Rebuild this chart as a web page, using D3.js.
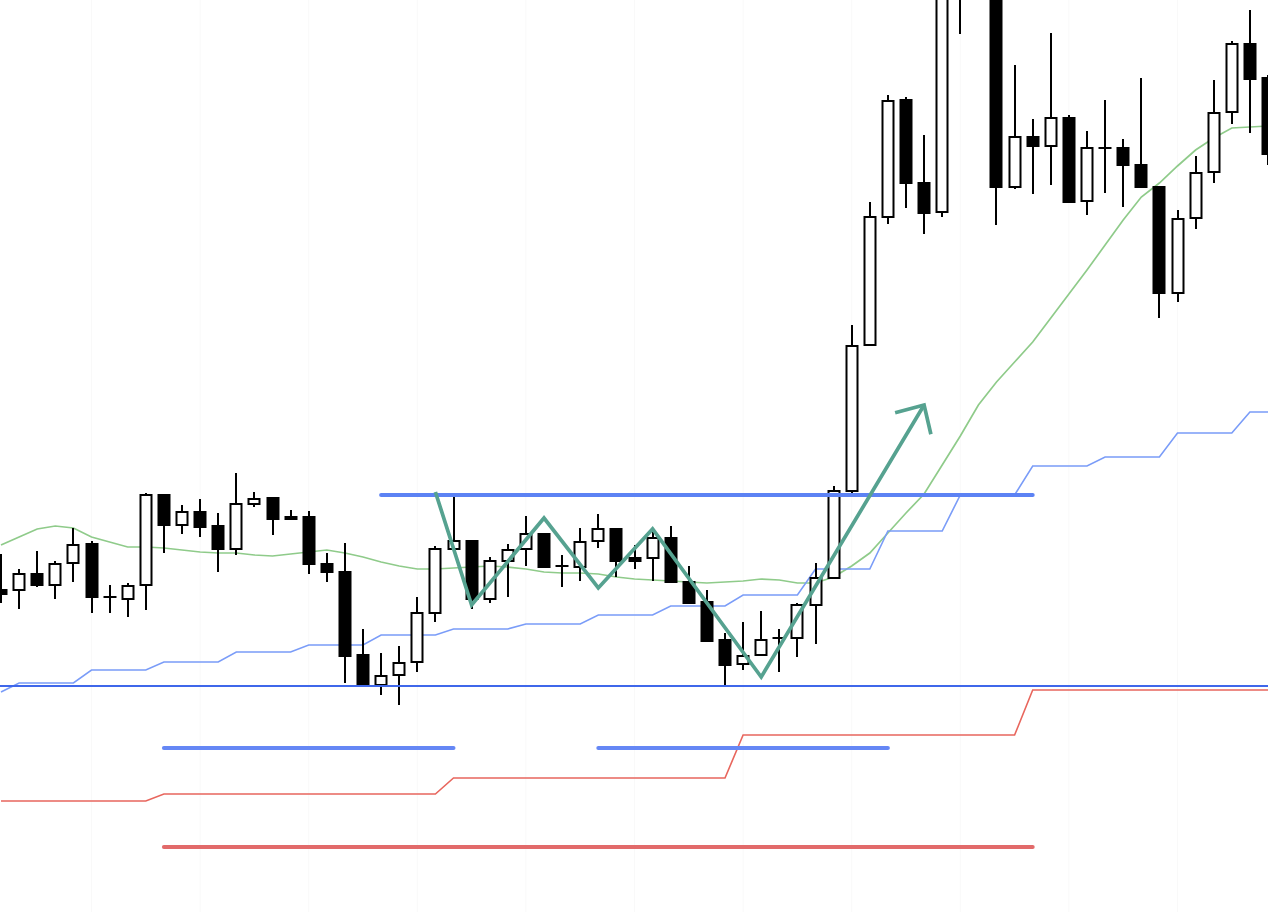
<!DOCTYPE html>
<html><head><meta charset="utf-8">
<script src="https://cdn.jsdelivr.net/npm/d3@7"></script>
<style>html,body{margin:0;padding:0;background:#fff;overflow:hidden}</style>
</head><body><svg id="chart" width="1268" height="912"></svg>
<script>
// ---- data (price units) ----
const bars = d3.range(1, 72);
const open  = [410,410,426,415,437,456,403,401,415,505, 475,488,474,451,496,502,483,483,436,428, 345,315,325,338,387,451,459,401,439,451, 466,434,433,459,471,442,442,462,418,398, 360,336,345,362,362,395,422,509,655,783, 900,817,788,1020,1130,1080,813,863,854,882, 799,852,852,835,813,707,782,828,888,956, 922];
const high  = [446,431,449,439,472,459,415,417,507,505, 495,501,487,527,508,502,490,489,447,457, 371,347,354,403,454,505,459,443,456,484, 466,445,472,486,472,455,472,474,434,410, 367,378,389,371,397,437,514,675,798,905, 903,865,1040,1100,1150,1090,935,881,967,885, 869,900,861,922,813,790,844,920,959,990, 925];
const low   = [397,391,413,401,418,387,387,383,390,447, 466,463,428,445,493,465,481,426,418,317, 314,305,295,328,378,451,391,397,403,434, 433,413,419,452,423,431,419,417,396,359, 314,330,345,328,343,356,422,507,655,776, 792,766,783,966,1020,775,811,806,815,797, 785,807,793,813,682,698,771,817,876,867, 835];
const close = [406,426,415,436,455,403,403,414,505,475, 488,473,451,496,501,481,481,436,428,344, 314,324,337,387,451,459,401,439,450,466, 433,434,458,471,439,439,462,418,397,359, 335,344,360,362,395,422,509,654,783,899, 817,787,1030,1090,1050,813,863,854,882,798, 852,852,835,813,707,781,827,887,956,921, 846];
const maLine = [455,463,471,474,472,463,458,453,453,452, 450,448,447,447,445,444,446,448,450,447, 443,438,434,431,431,432,433,434,433,431, 428,427,427,426,423,421,420,419,418,417, 418,419,421,420,417,417,423,434,447,467, 487,506,535,564,595,618,638,658,682,706, 730,755,780,803,817,834,850,862,872,873, 874];
const blueStep = [308, 317,317,317,317, 330,330,330,330, 338,338,338,338, 348,348,348,348, 355,355,355,355, 365,365,365,365, 371,371,371,371, 376,376,376,376, 385,385,385,385, 394,394,394,394, 405,405,405,405, 431,431,431,431, 469,469,469,469, 505,505,505,505, 534,534,534,534, 543,543,543,543, 567,567,567,567, 588,588];
const redStep = [199,199,199,199,199,199,199,199,199, 206,206,206,206,206,206,206,206,206,206,206,206,206,206,206,206, 222,222,222,222,222,222,222,222,222,222,222,222,222,222,222,222, 265,265,265,265,265,265,265,265,265,265,265,265,265,265,265,265, 310,310,310,310,310,310,310,310,310,310,310,310,310,310];
const resistance = {from: 22, to: 58, level: 505};
const supportLevel = 314;
const blueMarkers = [{from: 10, to: 26, level: 252}, {from: 34, to: 50, level: 252}];
const redMarker = {from: 10, to: 58, level: 153};
const zigzagBars = [25, 27, 31, 34, 37, 43, 52];
const zigzagValues = [508, 395, 482, 412, 471, 323, 595];
const gridBars = [6, 12, 18, 24, 30, 36, 42, 48, 54, 60, 66];

// ---- drawing ----
const W = 1268, H = 912;
const svg = d3.select('#chart');
const x = d3.scaleLinear().domain([1, 71]).range([1, 1268]);
const y = d3.scaleLinear().domain([88, 1000]).range([H, 0]);

svg.append('rect').attr('width', W).attr('height', H).attr('fill', '#fff');

svg.append('g').selectAll('line').data(gridBars).join('line')
  .attr('x1', d => x(d)).attr('x2', d => x(d)).attr('y1', 0).attr('y2', H)
  .attr('stroke', '#f9f9f9').attr('stroke-width', 1);

const lineGen = vals => d3.line().x((d, i) => x(bars[i])).y(d => y(d))(vals);

svg.append('path').attr('d', lineGen(maLine)).attr('fill', 'none')
  .attr('stroke', '#8fcb8a').attr('stroke-width', 1.7);
svg.append('path').attr('d', lineGen(blueStep)).attr('fill', 'none')
  .attr('stroke', '#7a9cf8').attr('stroke-width', 1.6);
svg.append('path').attr('d', lineGen(redStep)).attr('fill', 'none')
  .attr('stroke', '#e8665d').attr('stroke-width', 1.6);

// candles
const cg = svg.append('g');
const bw = 13;
bars.forEach((b, i) => {
  const cx = Math.round(x(b));
  const o = open[i], c = close[i];
  cg.append('line').attr('x1', cx).attr('x2', cx)
    .attr('y1', y(high[i])).attr('y2', y(low[i]))
    .attr('stroke', '#000').attr('stroke-width', 2);
  if (o === c) {
    cg.append('line').attr('x1', cx - bw / 2).attr('x2', cx + bw / 2)
      .attr('y1', y(o)).attr('y2', y(o)).attr('stroke', '#000').attr('stroke-width', 2);
  } else if (c > o) {
    cg.append('rect').attr('x', cx - bw / 2 + 1).attr('width', bw - 2)
      .attr('y', y(c)).attr('height', y(o) - y(c))
      .attr('fill', '#fff').attr('stroke', '#000').attr('stroke-width', 2);
  } else {
    cg.append('rect').attr('x', cx - bw / 2).attr('width', bw)
      .attr('y', y(o) - 1).attr('height', y(c) - y(o) + 2)
      .attr('fill', '#000');
  }
});

// annotations
svg.append('line').attr('x1', 0).attr('x2', W)
  .attr('y1', y(supportLevel)).attr('y2', y(supportLevel))
  .attr('stroke', '#3f67ea').attr('stroke-width', 2);

svg.append('line').attr('x1', x(resistance.from)).attr('x2', x(resistance.to))
  .attr('y1', y(resistance.level)).attr('y2', y(resistance.level))
  .attr('stroke', '#5c82f4').attr('stroke-width', 4).attr('stroke-linecap', 'round');

svg.append('g').selectAll('line').data(blueMarkers).join('line')
  .attr('x1', d => x(d.from)).attr('x2', d => x(d.to))
  .attr('y1', d => y(d.level)).attr('y2', d => y(d.level))
  .attr('stroke', '#6587f5').attr('stroke-width', 4).attr('stroke-linecap', 'round');

svg.append('line').attr('x1', x(redMarker.from)).attr('x2', x(redMarker.to))
  .attr('y1', y(redMarker.level)).attr('y2', y(redMarker.level))
  .attr('stroke', '#e26a6a').attr('stroke-width', 4).attr('stroke-linecap', 'round');

// zigzag with arrow
const zz = zigzagBars.map((b, i) => [x(b), y(zigzagValues[i])]);
const zcol = '#56a290';
svg.append('path').attr('d', d3.line()(zz)).attr('fill', 'none')
  .attr('stroke', zcol).attr('stroke-width', 3.7).attr('stroke-linejoin', 'miter')
  .attr('stroke-miterlimit', 6);
const tip = zz[zz.length - 1], prev = zz[zz.length - 2];
const ang = Math.atan2(prev[1] - tip[1], prev[0] - tip[0]);
const len = 30, spread = 44 * Math.PI / 180;
const barbs = [ang + spread, ang - spread].map(a => [tip[0] + len * Math.cos(a), tip[1] + len * Math.sin(a)]);
svg.append('path').attr('d', d3.line()([barbs[0], tip, barbs[1]])).attr('fill', 'none')
  .attr('stroke', zcol).attr('stroke-width', 3.7).attr('stroke-linejoin', 'miter');
</script>
</body></html>
